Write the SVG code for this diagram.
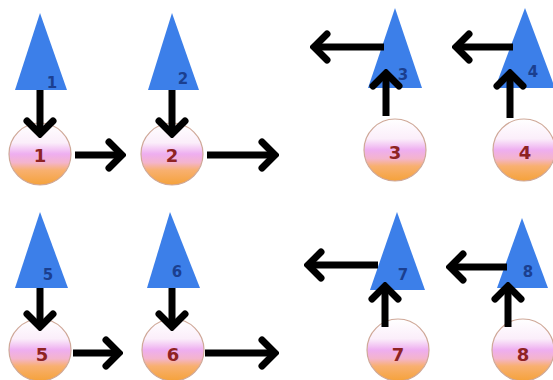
<svg xmlns="http://www.w3.org/2000/svg" width="553" height="380" viewBox="0 0 553 380">
<style>
.tri{fill:#3c7fe9}
.tl{font-family:"DejaVu Sans",sans-serif;font-size:15px;font-weight:bold;fill:#1b3f8f;text-anchor:middle}
.ball{fill:url(#g);stroke:#cfa898;stroke-width:1.2}
.bl{font-family:"DejaVu Sans",sans-serif;font-size:18px;font-weight:bold;fill:#8e2323;text-anchor:middle}
.c{stroke:#000;stroke-width:7;fill:none;marker-end:url(#ah)}
</style>
<defs>
<linearGradient id="g" x1="0" y1="0" x2="0" y2="1">
<stop offset="0" stop-color="#ffffff"/>
<stop offset="0.32" stop-color="#fbeefa"/>
<stop offset="0.5" stop-color="#eeaef0"/>
<stop offset="0.64" stop-color="#f4b4cc"/>
<stop offset="0.76" stop-color="#f8b070"/>
<stop offset="1" stop-color="#f5a23a"/>
</linearGradient>
<marker id="ah" markerUnits="userSpaceOnUse" viewBox="-22 -18 26 36" markerWidth="26" markerHeight="36" refX="0" refY="0" orient="auto">
<path d="M-13,-13 L0,0 L-13,13" fill="none" stroke="#000" stroke-width="7" stroke-linecap="round"/>
</marker>
</defs>
<g id="t1"><polygon class="tri" points="40,13 15,90 67,90"/><text class="tl" x="52" y="88">1</text></g>
<g id="t2"><polygon class="tri" points="172,13 148,90 199,90"/><text class="tl" x="183" y="84">2</text></g>
<g id="t3"><polygon class="tri" points="395,8 368,88 422,88"/><text class="tl" x="403" y="80">3</text></g>
<g id="t4"><polygon class="tri" points="525,8 495,88 555,88"/><text class="tl" x="533" y="77">4</text></g>
<g id="t5"><polygon class="tri" points="40,212 15,288 68,288"/><text class="tl" x="48" y="280">5</text></g>
<g id="t6"><polygon class="tri" points="170,212 147,288 200,288"/><text class="tl" x="177" y="277">6</text></g>
<g id="t7"><polygon class="tri" points="397,212 370,290 425,290"/><text class="tl" x="403" y="280">7</text></g>
<g id="t8"><polygon class="tri" points="522,218 497,288 548,288"/><text class="tl" x="528" y="277">8</text></g>
<g id="b1"><circle class="ball" cx="40" cy="154" r="31"/><text class="bl" x="40" y="162">1</text></g>
<g id="b2"><circle class="ball" cx="172" cy="154" r="31"/><text class="bl" x="172" y="162">2</text></g>
<g id="b3"><circle class="ball" cx="395" cy="150" r="31"/><text class="bl" x="395" y="159">3</text></g>
<g id="b4"><circle class="ball" cx="524" cy="150" r="31"/><text class="bl" x="525" y="159">4</text></g>
<g id="b5"><circle class="ball" cx="40" cy="350" r="31"/><text class="bl" x="42" y="361">5</text></g>
<g id="b6"><circle class="ball" cx="173" cy="350" r="31"/><text class="bl" x="173" y="361">6</text></g>
<g id="b7"><circle class="ball" cx="398" cy="350" r="31"/><text class="bl" x="398" y="361">7</text></g>
<g id="b8"><circle class="ball" cx="523" cy="350" r="31"/><text class="bl" x="523" y="361">8</text></g>
<g id="connectors">
<path class="c" d="M40,90 V134"/>
<path class="c" d="M172,90 V134"/>
<path class="c" d="M75,155 H122"/>
<path class="c" d="M207,155 H275"/>
<path class="c" d="M384,47 H314"/>
<path class="c" d="M513,47 H456"/>
<path class="c" d="M386,116 V73"/>
<path class="c" d="M510,118 V73"/>
<path class="c" d="M40,288 V327"/>
<path class="c" d="M172,288 V327"/>
<path class="c" d="M73,353 H119"/>
<path class="c" d="M205,353 H275"/>
<path class="c" d="M378,265 H308"/>
<path class="c" d="M507,267 H450"/>
<path class="c" d="M385,327 V286"/>
<path class="c" d="M508,327 V286"/>
</g>
</svg>
